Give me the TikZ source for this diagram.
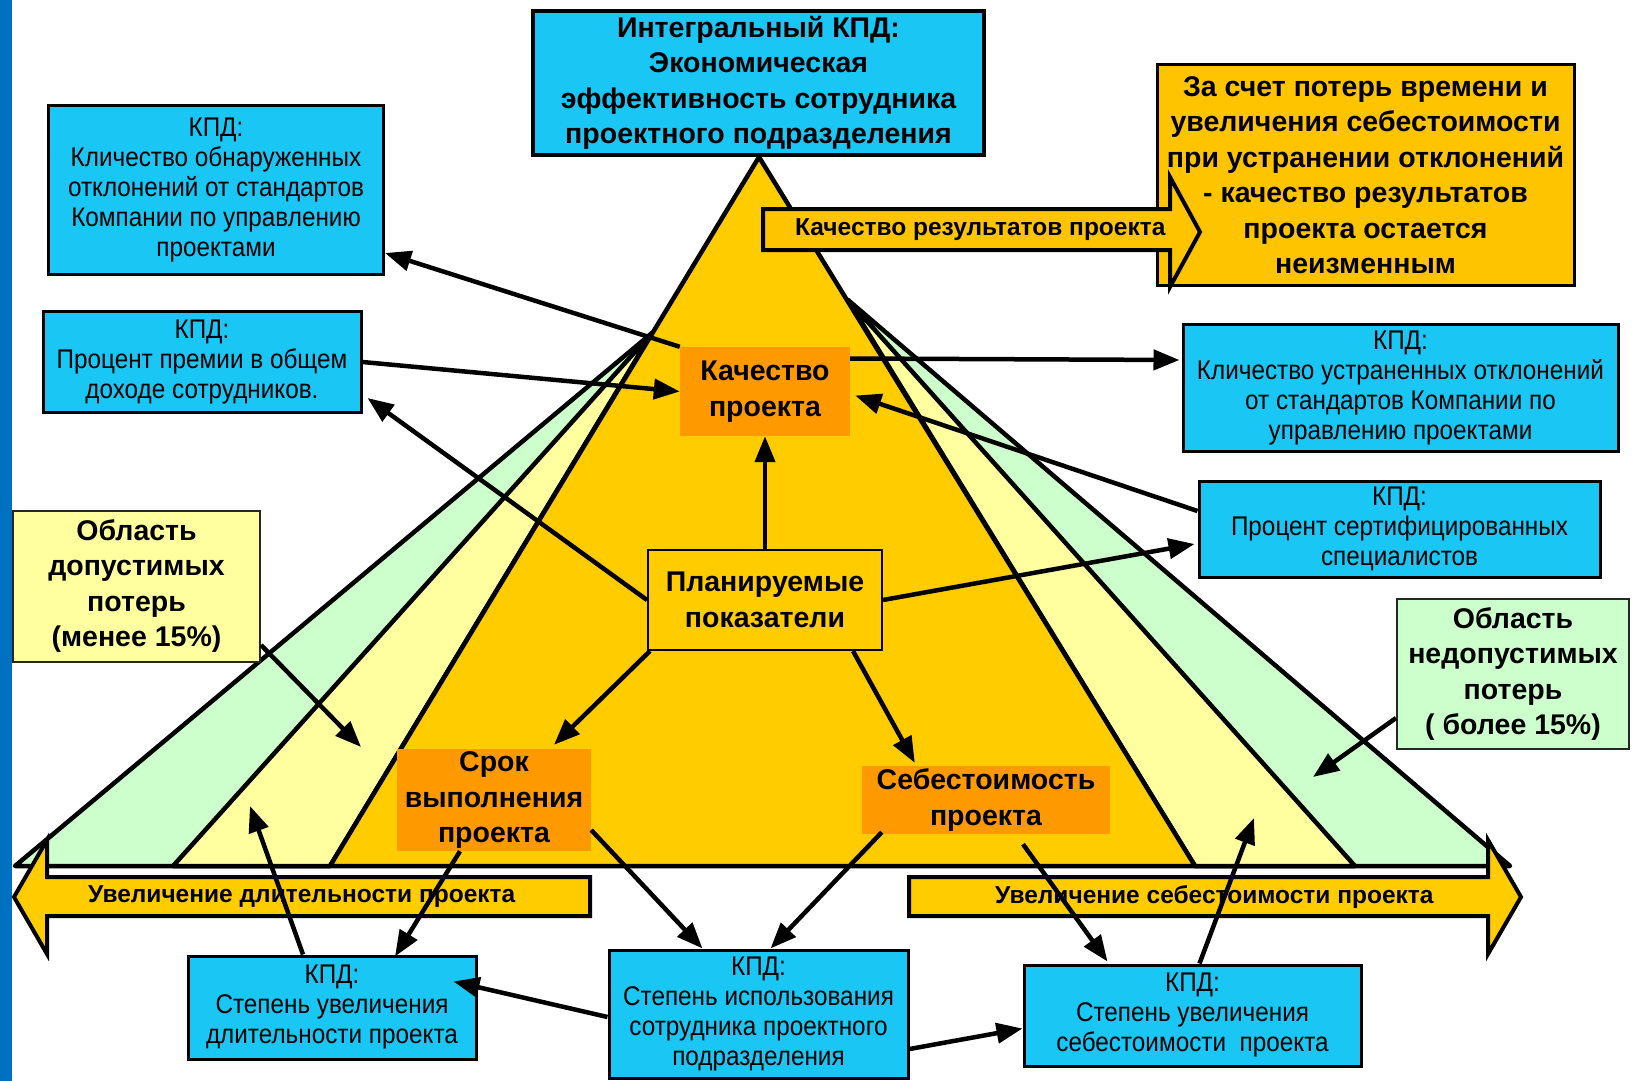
\documentclass[tikz,border=0pt]{standalone}
\usepackage{fontspec}
\setmainfont{Liberation Sans}
\newfontfamily\narrowsans{Liberation Sans}[FakeStretch=0.9]
\usetikzlibrary{arrows.meta,calc}

\definecolor{barblue}{RGB}{0,112,192}
\definecolor{kpdblue}{RGB}{26,198,244}
\definecolor{pyrgold}{RGB}{255,204,0}
\definecolor{boxgold}{RGB}{255,196,0}
\definecolor{accent}{RGB}{255,153,0}
\definecolor{paleyellow}{RGB}{255,255,160}
\definecolor{palegreen}{RGB}{204,255,204}

\newcommand\fntKpd{\narrowsans\fontsize{27}{30}\selectfont}
\newcommand\fntHead{\bfseries\fontsize{28.5}{35.5}\selectfont}
\newcommand\fntBand{\bfseries\fontsize{24.5}{28}\selectfont}

\begin{document}
\begin{tikzpicture}[x=1pt,y=-1pt,
  box/.style={rectangle, inner sep=0pt, align=center, anchor=center},
  kpd/.style={box, draw=black, line width=3pt, fill=kpdblue, font=\fntKpd},
  zone/.style={box, draw=black!85, line width=2pt, font=\fntHead},
  factor/.style={box, fill=accent, font=\fntHead},
  band/.style={fill=pyrgold, draw=black, line width=4pt},
  wedge/.style={draw=black, line width=4.5pt, line join=round},
  link/.style={line width=4.5pt, -{Triangle[length=26pt,width=20pt]}},
  bandlabel/.style={inner sep=0pt, anchor=west, font=\fntBand},
]
\useasboundingbox (0,0) rectangle (1633,1081);
\fill[white] (0,0) rectangle (1633,1081);
\fill[barblue] (0,0) rectangle (11.5,1081);

% pyramid: loss zones behind the main triangle
\coordinate (apex) at (759,157);
\coordinate (Lp) at (652,333);
\coordinate (Rp) at (848,300);
\filldraw[wedge, fill=palegreen] (Lp) -- (15,866) -- (330,866) -- cycle;
\filldraw[wedge, fill=paleyellow] (Lp) -- (173,866) -- (330,866) -- cycle;
\filldraw[wedge, fill=palegreen] (Rp) -- (1510,866) -- (1195,866) -- cycle;
\filldraw[wedge, fill=paleyellow] (Rp) -- (1355,866) -- (1195,866) -- cycle;
\filldraw[wedge, fill=pyrgold] (apex) -- (330,866) -- (1195,866) -- cycle;

% block arrows along the base
\filldraw[band] (14,897) -- (47,840) -- (47,877) -- (590,877) -- (590,916)
  -- (47,916) -- (47,954) -- cycle;
\node[bandlabel] (durlabel) at (88,897) {Увеличение длительности проекта};
\filldraw[band] (909,877) -- (1488,877) -- (1488,840) -- (1521,897)
  -- (1488,954) -- (1488,916) -- (909,916) -- cycle;
\node[bandlabel] (costlabel) at (995,897) {Увеличение себестоимости проекта};

% conclusion box and quality arrow
\node[box, draw=black, line width=3pt, fill=boxgold, font=\fntHead,
  minimum width=417pt, minimum height=220pt] (goal) at (1365.5,175)
  {За счет потерь времени и\\увеличения себестоимости\\при устранении отклонений\\- качество результатов\\проекта остается\\неизменным};
\filldraw[band, fill=boxgold] (763,209) -- (1170,209) -- (1170,177) -- (1200,232)
  -- (1170,287) -- (1170,250) -- (763,250) -- cycle;
\node[bandlabel] (qlabel) at (795,230) {Качество результатов проекта};

% indicator boxes
\node[kpd, font=\fntHead, line width=3.5pt, minimum width=451pt, minimum height=144pt]
  (top) at (758.5,83) {Интегральный КПД:\\Экономическая\\эффективность сотрудника\\проектного подразделения};
\node[kpd, minimum width=335pt, minimum height=169pt] (kpdA) at (216,190)
  {КПД:\\Кличество обнаруженных\\отклонений от стандартов\\Компании по управлению\\проектами};
\node[kpd, minimum width=318pt, minimum height=101pt] (kpdB) at (202,362)
  {КПД:\\Процент премии в общем\\доходе сотрудников.};
\node[kpd, minimum width=435pt, minimum height=127pt] (kpdC) at (1400.5,388)
  {КПД:\\Кличество устраненных отклонений\\от стандартов Компании по\\управлению проектами};
\node[kpd, minimum width=401pt, minimum height=96pt] (kpdD) at (1399.5,529)
  {КПД:\\Процент сертифицированных\\специалистов};
\node[kpd, minimum width=288pt, minimum height=103pt] (kpdE) at (332,1007.5)
  {КПД:\\Степень увеличения\\длительности проекта};
\node[kpd, minimum width=299pt, minimum height=128pt] (kpdF) at (758.5,1014)
  {КПД:\\Степень использования\\сотрудника проектного\\подразделения};
\node[kpd, minimum width=337pt, minimum height=101pt] (kpdG) at (1192.5,1015.5)
  {КПД:\\Степень увеличения\\себестоимости~ проекта};

% loss zone captions
\node[zone, fill=paleyellow, minimum width=247pt, minimum height=151pt] (zoneOK)
  at (136.5,586) {Область\\допустимых\\потерь\\(менее 15\%)};
\node[zone, fill=palegreen, minimum width=232pt, minimum height=150pt] (zoneBad)
  at (1513,674) {Область\\недопустимых\\потерь\\( более 15\%)};

% project factors
\node[factor, minimum width=170pt, minimum height=89pt] (kach) at (765,391.5)
  {Качество\\проекта};
\node[factor, fill=pyrgold, draw=black, line width=2pt, minimum width=234pt,
  minimum height=100pt] (plan) at (765,600) {Планируемые\\показатели};
\node[factor, minimum width=194pt, minimum height=102pt] (srok) at (494,800)
  {Срок\\выполнения\\проекта};
\node[factor, minimum width=248pt, minimum height=68pt] (sebe) at (986,800)
  {Себестоимость\\проекта};

% connectors
\coordinate (okPt) at (361,747);
\coordinate (badPt) at (1313,777);
\coordinate (durPt) at (250,806);
\coordinate (costPt) at (1254,818);
\draw[link] (kach.north west) -- ($(kpdA.east)+(0,63)$);
\draw[link] (kpdB.east) -- (kach.west);
\draw[link] (plan.west) -- ($(kpdB.east)+(5,36)$);
\draw[link] (plan.north) -- (kach.south);
\draw[link] ($(kach.east)+(0,-33)$) -- ($(kpdC.west)+(-2,-28)$);
\draw[link] ($(kpdD.west)+(0,-18)$) -- ($(kach.east)+(5,4)$);
\draw[link] (plan.east) -- ($(kpdD.west)+(-3,15)$);
\draw[link] ($(plan.south west)+(3,0)$) -- ($(srok.north)+(60,-4)$);
\draw[link] ($(plan.south east)+(-30,0)$) -- ($(sebe.north west)+(53,-3)$);
\draw[link] ($(zoneOK.east)+(0,59)$) -- (okPt);
\draw[link] ($(zoneBad.west)+(0,44)$) -- (badPt);
\draw[link] ($(srok.east)+(0,30)$) -- ($(kpdF.north west)+(95,0)$);
\draw[link] ($(srok.south)+(-34,0)$) -- ($(kpdE.north)+(63,2)$);
\draw[link] ($(kpdE.north)+(-29,0)$) -- (durPt);
\draw[link] ($(sebe.south west)+(20,-2)$) -- ($(kpdF.north east)+(-139,0)$);
\draw[link] ($(sebe.south)+(37,10)$) -- ($(kpdG.north)+(-85,-2)$);
\draw[link] ($(kpdG.north)+(7,0)$) -- (costPt);
\draw[link] ($(kpdF.west)+(0,3)$) -- ($(kpdE.east)+(-24,-26)$);
\draw[link] ($(kpdF.east)+(0,35)$) -- ($(kpdG.west)+(0,13)$);
\end{tikzpicture}
\end{document}
